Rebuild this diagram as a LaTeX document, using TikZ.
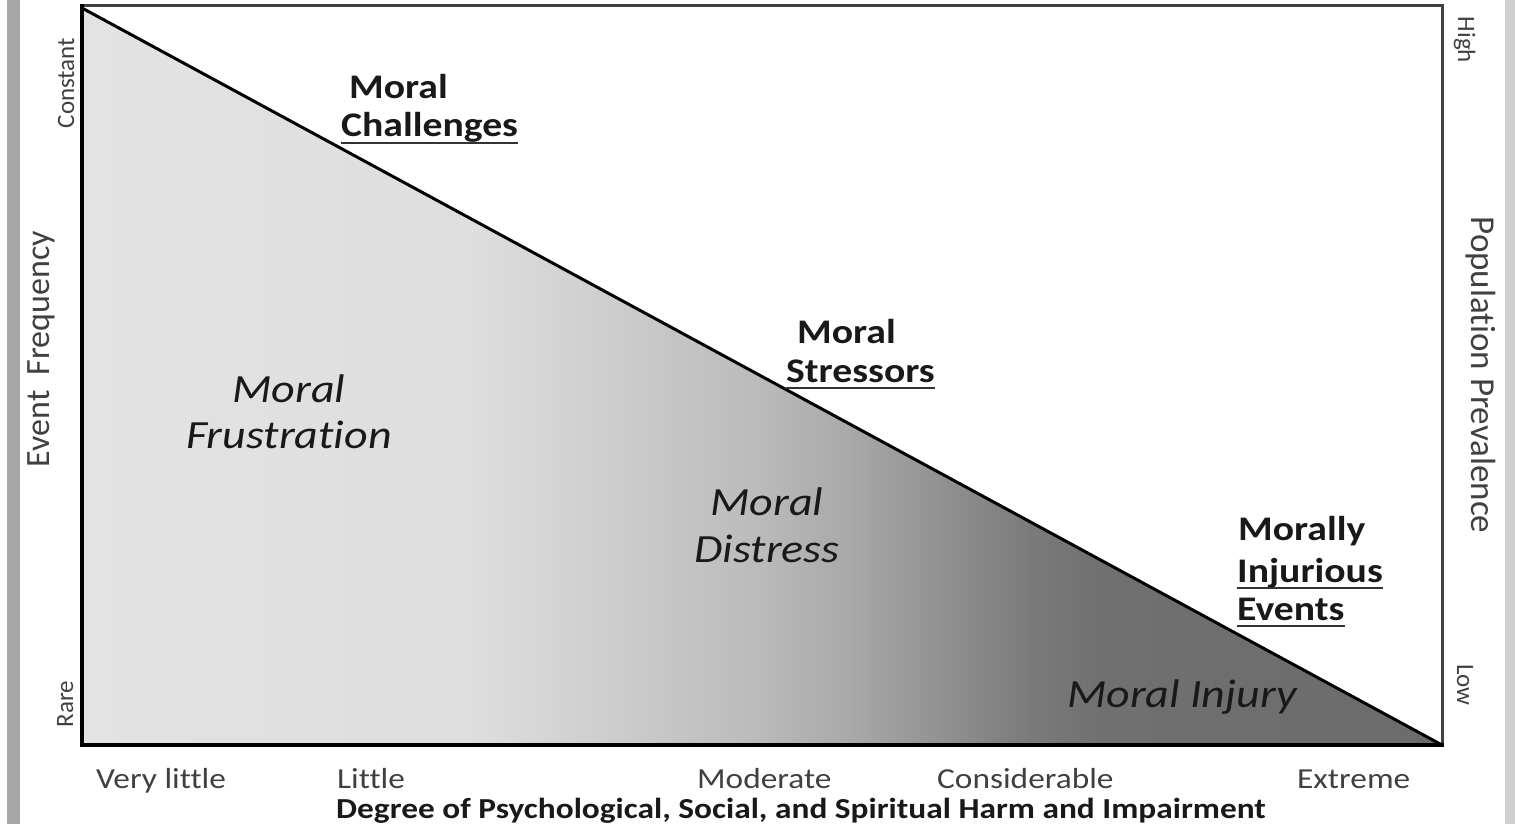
\documentclass[tikz,border=0pt]{standalone}
\usepackage{fontspec}
\setmainfont{Carlito}[FakeStretch=1.15, Ligatures=NoCommon]
\newfontfamily\sidefont{Carlito}[Ligatures=NoCommon]
\usepackage{tikz}

\begin{document}
\begin{tikzpicture}[x=1pt, y=-1pt,
    tick/.style={font=\fontsize{29}{31}\selectfont, text=black!75, inner sep=0pt, anchor=base west},
    side/.style={font=\sidefont\fontsize{25}{27}\selectfont, text=black!75, inner sep=0pt, anchor=base},
    word/.style={font=\bfseries\fontsize{34.5}{36}\selectfont, text=black!90, inner sep=0pt, anchor=base west},
    area/.style={font=\itshape\fontsize{40}{42}\selectfont, text=black!90, inner sep=0pt, anchor=base},
    uline/.style={line width=2.5pt, black!80}]
    \useasboundingbox (0,0) rectangle (1515,824);
    \fill[black!35] (7,0) rectangle (20,824);
    \fill[black!19] (1505,0) rectangle (1515,824);
    \begin{scope}
        \clip (82,8) -- (1442,745) -- (82,745) -- cycle;
        \foreach \xa/\ga/\xb/\gb in {82/89/470/87, 470/87/620/80, 620/80/760/73, 760/73/850/66,
            850/66/940/57, 940/57/1030/48, 1030/48/1100/44, 1100/44/1442/42}
            \shade[left color=white!\ga!black, right color=white!\gb!black] (\xa,0) rectangle (\xb+1,750);
    \end{scope}
    \draw[line width=3pt, black!75] (82,6) -- (1442,6) -- (1442,745);
    \draw[line width=3pt] (82,8) -- (1442,745);
    \draw[line width=4pt] (82,4) -- (82,745) -- (1444,745);

    \node[side, rotate=90] (const) at (74,83) {Constant};
    \node[side, rotate=90] (rare) at (73,704) {Rare};
    \node[side, rotate=90, font=\sidefont\fontsize{34}{36}\selectfont] (freq) at (49,349) {Event\ \ Frequency};
    \node[side, rotate=-90] (high) at (1458,40) {High};
    \node[side, rotate=-90] (low) at (1457,685) {Low};
    \node[side, rotate=-90, font=\sidefont\fontsize{35}{37}\selectfont] (prev) at (1471,375) {Population Prevalence};

    \node[word] (chal1) at (349,99) {Moral};
    \node[word] (chal2) at (341,137) {Challenges};
    \draw[uline] ([yshift=-6pt]chal2.base west) -- ([yshift=-6pt]chal2.base east);
    \node[word] (str1) at (797,343) {Moral};
    \node[word] (str2) at (786,382) {Stressors};
    \draw[uline] ([yshift=-6pt]str2.base west) -- ([yshift=-6pt]str2.base east);
    \node[word] (inj1) at (1238,540) {Morally};
    \node[word] (inj2) at (1237,582) {Injurious};
    \draw[uline] ([yshift=-6pt]inj2.base west) -- ([yshift=-6pt]inj2.base east);
    \node[word] (inj3) at (1237,620) {Events};
    \draw[uline] ([yshift=-6pt]inj3.base west) -- ([yshift=-6pt]inj3.base east);

    \node[area] (frus1) at (289,402) {Moral};
    \node[area] (frus2) at (289,448) {Frustration};
    \node[area] (dist1) at (767,515) {Moral};
    \node[area] (dist2) at (767,562) {Distress};
    \node[area] (injury) at (1182,707) {Moral Injury};

    \node[tick] (vlittle) at (96,788) {Very little};
    \node[tick] (little) at (337,788) {Little};
    \node[tick] (moder) at (697,788) {Moderate};
    \node[tick] (consid) at (937,788) {Considerable};
    \node[tick] (extreme) at (1297,788) {Extreme};
    \node[tick, font=\bfseries\fontsize{29}{31}\selectfont, text=black!90] (title) at (336,818) {Degree of Psychological, Social, and Spiritual Harm and Impairment};
\end{tikzpicture}
\end{document}
